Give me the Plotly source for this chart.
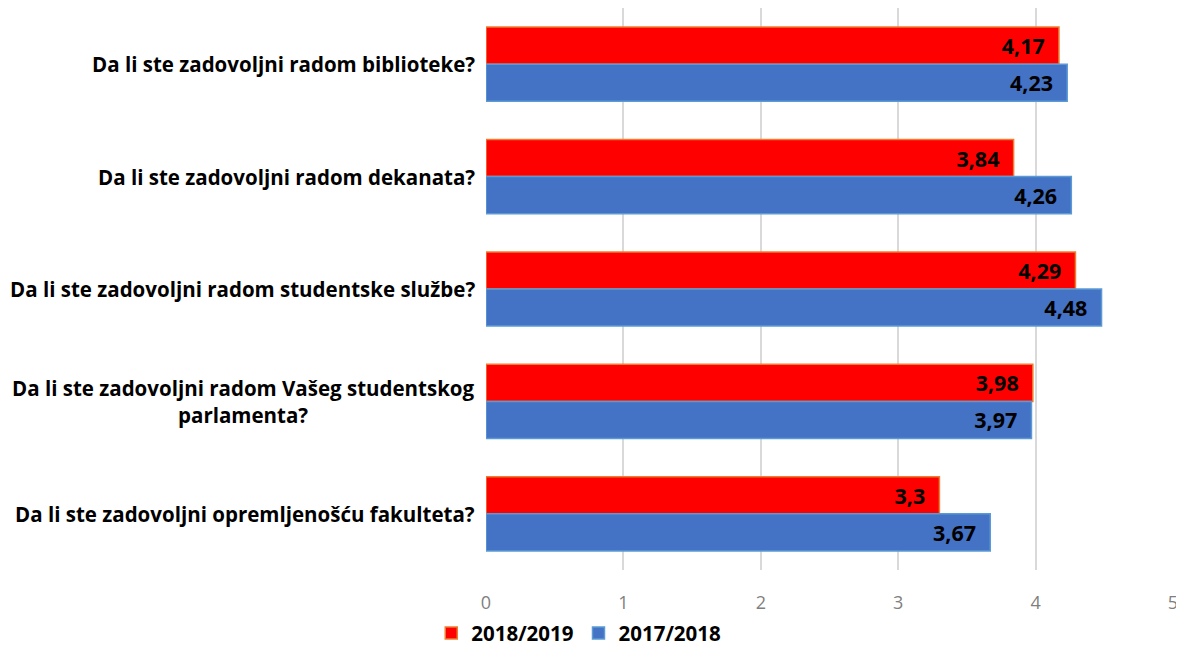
import plotly.graph_objects as go

categories = [
    "Da li ste zadovoljni radom biblioteke?",
    "Da li ste zadovoljni radom dekanata?",
    "Da li ste zadovoljni radom studentske službe?",
    "Da li ste zadovoljni radom Vašeg studentskog<br>parlamenta?",
    "Da li ste zadovoljni opremljenošću fakulteta?",
]
series_names = ["2018/2019", "2017/2018"]
values_2018_2019 = [4.17, 3.84, 4.29, 3.98, 3.3]
values_2017_2018 = [4.23, 4.26, 4.48, 3.97, 3.67]
tick_vals = [0, 1, 2, 3, 4, 5]

def fmt(v):
    return ("%g" % v).replace(".", ",") + "\u00a0\u00a0"

FONT = "Open Sans"
fig = go.Figure()
fig.add_trace(go.Bar(
    y=categories, x=values_2018_2019, name=series_names[0], orientation="h",
    marker=dict(color="#FF0000", line=dict(color="#ED7D31", width=1.5)),
    text=[fmt(v) for v in values_2018_2019], textposition="inside",
    insidetextanchor="end",
    textfont=dict(family=FONT, size=21.5, color="black", weight="bold"),
))
fig.add_trace(go.Bar(
    y=categories, x=values_2017_2018, name=series_names[1], orientation="h",
    marker=dict(color="#4472C4", line=dict(color="#5B9BD5", width=1.5)),
    text=[fmt(v) for v in values_2017_2018], textposition="inside",
    insidetextanchor="end",
    textfont=dict(family=FONT, size=21.5, color="black", weight="bold"),
))

for c in categories:
    fig.add_annotation(
        x=0, xref="paper", y=c, yref="y", xanchor="right", xshift=-9,
        text="<b>%s</b>" % c, showarrow=False, align="center",
        font=dict(family=FONT, size=20.5, color="black"),
    )

fig.update_layout(
    width=1176, height=643,
    margin=dict(l=478, r=11, t=0, b=81, autoexpand=False),
    barmode="group", bargap=0.34, bargroupgap=0,
    plot_bgcolor="white", paper_bgcolor="white",
    font=dict(family=FONT),
    uniformtext=dict(mode="show", minsize=10),
    showlegend=True,
    legend=dict(orientation="h", x=0.135, xanchor="center", y=-0.077, yanchor="top",
                font=dict(family=FONT, size=20.5, color="black", weight="bold"),
                itemwidth=30),
    xaxis=dict(range=[0, 5], tickvals=tick_vals, showgrid=True,
               gridcolor="#D9D9D9", gridwidth=1.5, zeroline=False,
               tickfont=dict(family=FONT, size=18, color="#7F7F7F"),
               ticks="", ticklabelstandoff=20, automargin=False),
    yaxis=dict(autorange="reversed", showticklabels=False, showgrid=False,
               zeroline=False, showline=False, automargin=False),
)

fig.write_html("out.html")
